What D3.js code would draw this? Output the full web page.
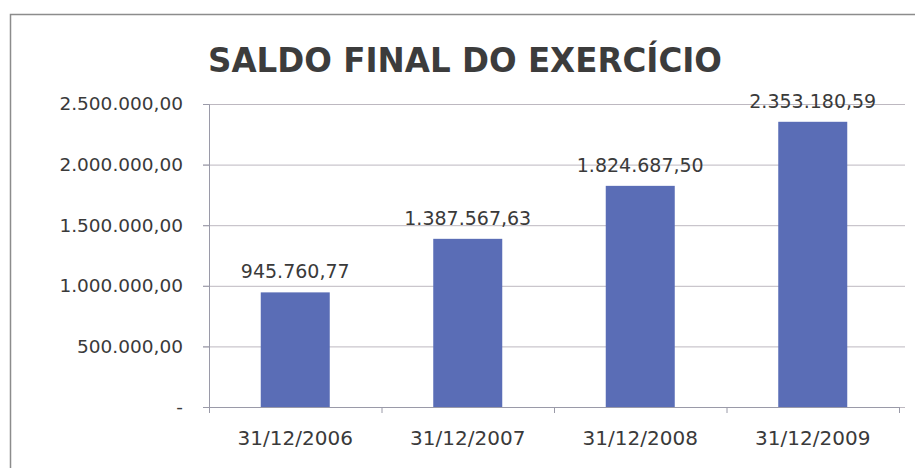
<!DOCTYPE html>
<html>
<head>
<meta charset="utf-8">
<title>Saldo Final do Exercício</title>
<script src="https://cdnjs.cloudflare.com/ajax/libs/d3/7.8.5/d3.min.js"></script>
<style>
  body { margin: 0; background: #fff; }
  text { font-family: "DejaVu Sans", Verdana, sans-serif; fill: #3a3a3a; }
</style>
</head>
<body>
<script>
var categories = ["31/12/2006", "31/12/2007", "31/12/2008", "31/12/2009"];
var values = [945760.77, 1387567.63, 1824687.50, 2353180.59];
var yTicks = [0, 500000, 1000000, 1500000, 2000000, 2500000];
var title = "SALDO FINAL DO EXERCÍCIO";

var width = 915, height = 468,
    margin = {top: 104, right: 16, bottom: 61, left: 209};

var svg = d3.select("body").append("svg")
    .attr("width", width)
    .attr("height", height);

// chart frame
svg.append("rect")
    .attr("x", 10.5).attr("y", 14.5)
    .attr("width", width - 5).attr("height", height - 8)
    .attr("fill", "none").attr("stroke", "#8c8c8c").attr("stroke-width", 1.5);

svg.append("text")
    .attr("x", 465).attr("y", 72)
    .attr("text-anchor", "middle")
    .attr("font-family", "'Open Sans', sans-serif")
    .attr("font-weight", "bold")
    .attr("font-size", 34)
    .attr("textLength", 514)
    .attr("lengthAdjust", "spacingAndGlyphs")
    .style("fill", "#3c3c3c")
    .text(title);

var x = d3.scaleBand()
    .domain(categories)
    .range([margin.left, width - margin.right])
    .paddingInner(0.6).paddingOuter(0.3);

var y = d3.scaleLinear()
    .domain([0, 2500000])
    .range([height - margin.bottom, margin.top]);

var fmt = function(v) {
    if (v === 0) return "-";
    return d3.format(",.2f")(v).replace(/,/g, "#").replace(".", ",").replace(/#/g, ".");
};

// gridlines
svg.append("g")
    .selectAll("line")
    .data(yTicks)
    .join("line")
    .attr("x1", margin.left - 6).attr("x2", width - 10)
    .attr("y1", function(d) { return y(d) + 0.5; })
    .attr("y2", function(d) { return y(d) + 0.5; })
    .attr("stroke", "#bdb8c0").attr("stroke-width", 1);

// y axis
var yAxis = svg.append("g")
    .attr("transform", "translate(" + margin.left + ",0)")
    .call(d3.axisLeft(y).tickValues(yTicks).tickFormat(fmt).tickSize(6).tickPadding(20));
yAxis.select(".domain").attr("stroke", "#9a9aa8");
yAxis.selectAll(".tick line").attr("stroke", "#9a9aa8");
yAxis.selectAll(".tick text").attr("font-size", 18.5).style("fill", "#3a3a3a");

// bars
svg.append("g")
    .selectAll("rect")
    .data(values)
    .join("rect")
    .attr("x", function(d, i) { return x(categories[i]); })
    .attr("y", function(d) { return y(d); })
    .attr("width", x.bandwidth())
    .attr("height", function(d) { return y(0) - y(d); })
    .attr("fill", "#5a6db6");

// value labels
svg.append("g")
    .selectAll("text")
    .data(values)
    .join("text")
    .attr("x", function(d, i) { return x(categories[i]) + x.bandwidth() / 2; })
    .attr("y", function(d) { return y(d) - 14; })
    .attr("text-anchor", "middle")
    .attr("font-size", 19)
    .text(fmt);

// x axis
var step = x.step();
var xAxis = svg.append("g")
    .attr("transform", "translate(0," + y(0) + ")")
    .call(d3.axisBottom(x).tickSize(0).tickPadding(24));
xAxis.select(".domain").attr("stroke", "#9a9aa8");
xAxis.selectAll(".tick text").attr("font-size", 20).style("fill", "#3a3a3a");
xAxis.selectAll(".sep")
    .data(d3.range(categories.length + 1))
    .join("line")
    .attr("class", "sep")
    .attr("x1", function(i) { return margin.left + i * step + 0.5; })
    .attr("x2", function(i) { return margin.left + i * step + 0.5; })
    .attr("y1", 0).attr("y2", 6)
    .attr("stroke", "#9a9aa8");
</script>
</body>
</html>
